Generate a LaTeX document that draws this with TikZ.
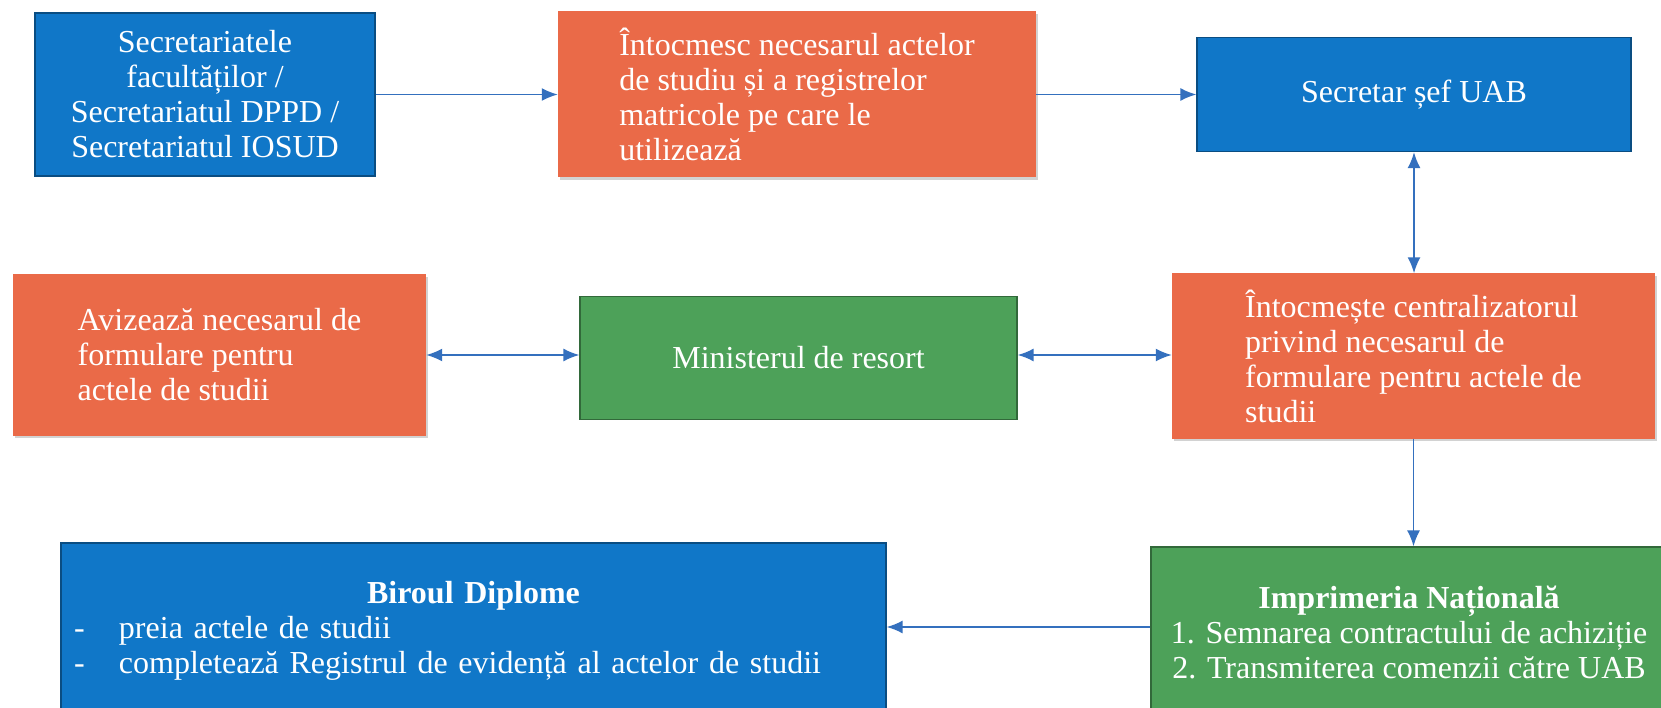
\documentclass[tikz,border=0pt]{standalone}
\usepackage{fontspec}
\setmainfont{Liberation Serif}
\usetikzlibrary{arrows.meta,shadows}
\definecolor{boxblue}{RGB}{16,119,200}
\definecolor{boxorange}{RGB}{234,106,72}
\definecolor{boxgreen}{RGB}{77,161,89}
\definecolor{linkblue}{RGB}{52,112,190}
\begin{document}
\begin{tikzpicture}[x=1pt,y=-1pt,
  box/.style={text=white,font=\fontsize{32}{35}\selectfont,inner sep=0pt},
  bluebox/.style={box,fill=boxblue,draw=boxblue!65!black,line width=1.2pt},
  greenbox/.style={box,fill=boxgreen,draw=boxgreen!65!black,line width=1.2pt},
  orangebox/.style={box,fill=boxorange,
    drop shadow={opacity=0.35,shadow xshift=1.5pt,shadow yshift=-2.5pt}},
  link/.style={draw=linkblue,line width=1.8pt,-{Latex[length=16pt,width=13pt]}},
  twoway/.style={link,{Latex[length=16pt,width=13pt]}-{Latex[length=16pt,width=13pt]}}
]
\useasboundingbox[fill=white] (0,0) rectangle (1661,708);

% \draw top row
\node[bluebox,minimum width=340pt,minimum height=163pt,align=center] (sec) at (205,94.5)
  {Secretariatele\\facultăților /\\Secretariatul DPPD /\\Secretariatul IOSUD};
\node[orangebox,minimum width=478pt,minimum height=166pt,align=left] (intoc) at (797,94.5)
  {Întocmesc necesarul actelor\\de studiu și a registrelor\\matricole pe care le\\utilizează};
\node[bluebox,minimum width=434pt,minimum height=114pt] (uab) at (1414,94.5)
  {Secretar șef UAB};

% \draw middle row
\node[orangebox,minimum width=413pt,minimum height=161pt,align=left] (aviz) at (219.5,355)
  {Avizează necesarul de\\formulare pentru\\actele de studii};
\node[greenbox,minimum width=437pt,minimum height=123pt] (min) at (798.5,358)
  {Ministerul de resort};
\node[orangebox,minimum width=483pt,minimum height=165pt,align=left] (centr) at (1413.5,356)
  {Întocmește centralizatorul\\privind necesarul de\\formulare pentru actele de\\studii};

% \draw bottom row
\node[bluebox,minimum width=825pt,minimum height=176pt,text width=799pt,inner xsep=13pt,align=left] (dipl) at (473.5,631)
  {\makebox[799pt]{\textbf{Biroul Diplome}}\\
   \makebox[45pt][l]{-}preia actele de studii\\
   \makebox[45pt][l]{-}completează Registrul de evidență al actelor de studii};
\node[greenbox,minimum width=516pt,minimum height=170pt,align=center] (impr) at (1409,632)
  {\textbf{Imprimeria Națională}\\
   1. Semnarea contractului de achiziție\\
   2. Transmiterea comenzii către UAB};

% \draw arrows
\draw[link] (sec.east) -- (sec.east -| intoc.west);
\draw[link] (intoc.east) -- (intoc.east -| uab.west);
\draw[twoway] (uab.south) -- (uab.south |- centr.north);
\draw[twoway] (aviz.east) -- (aviz.east -| min.west);
\draw[twoway] (aviz.east -| min.east) -- (aviz.east -| centr.west);
\draw[link] (centr.south) -- (centr.south |- impr.north);
\draw[link] (impr.west |- 0,627) -- (dipl.east |- 0,627);

\end{tikzpicture}
\end{document}
